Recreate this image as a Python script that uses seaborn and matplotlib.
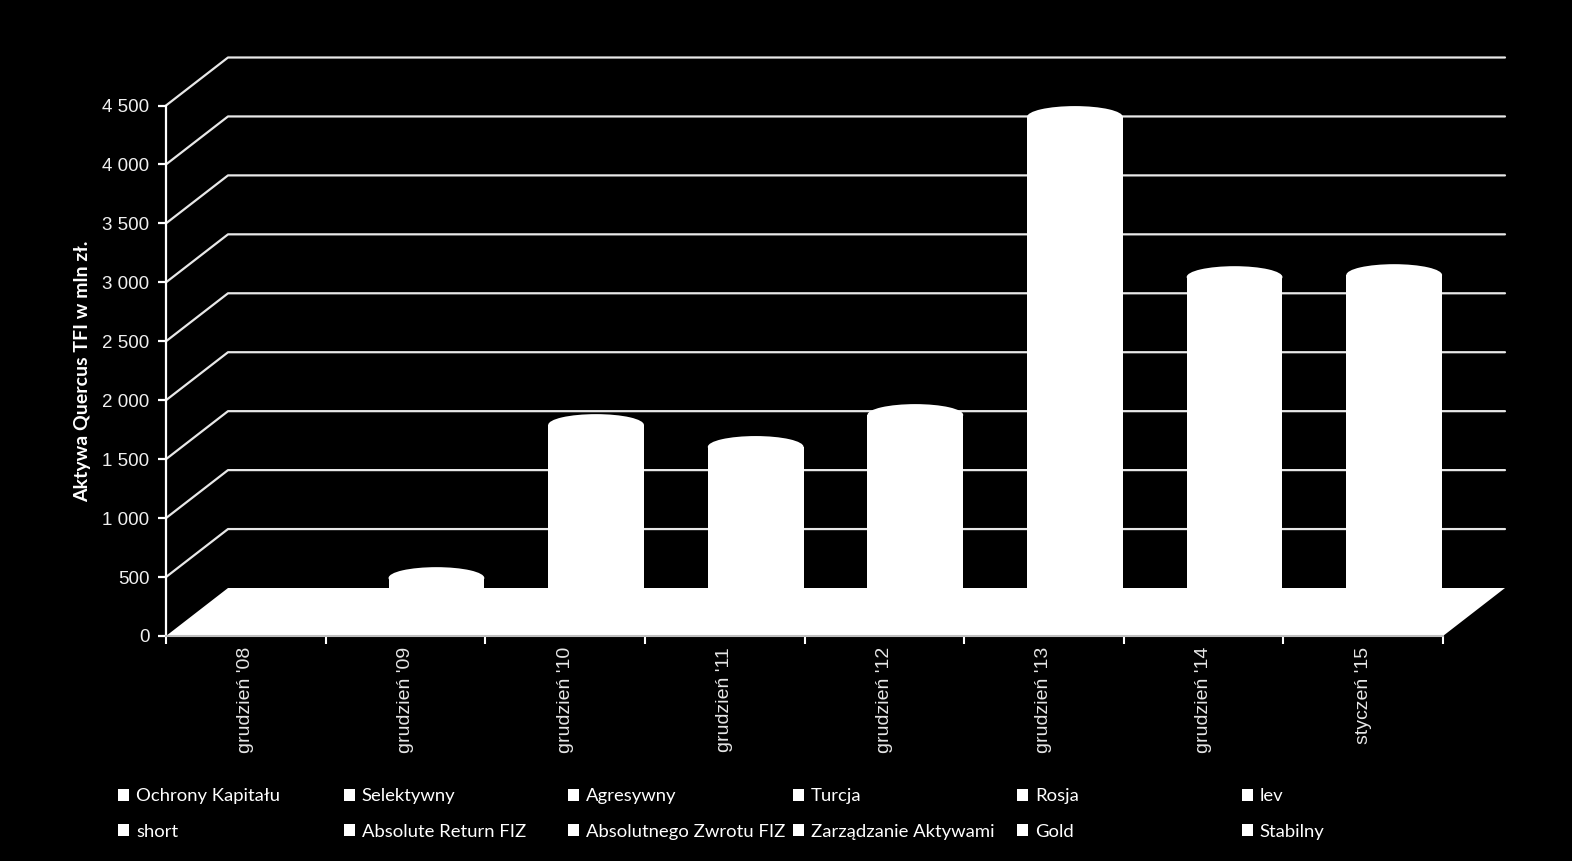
import numpy as np
import pandas as pd
import matplotlib
matplotlib.use('Agg')
import matplotlib.pyplot as plt
import seaborn as sns
from matplotlib.patches import Ellipse, Patch, Polygon
from matplotlib.lines import Line2D
from matplotlib.transforms import ScaledTranslation

# Dane (mln zł)
months = ["grudzień '08", "grudzień '09", "grudzień '10", "grudzień '11",
          "grudzień '12", "grudzień '13", "grudzień '14", "styczeń '15"]
assets = [0, 288, 1586, 1400, 1671, 4199, 2841, 2858]
funds = ["Ochrony Kapitału", "Selektywny", "Agresywny", "Turcja", "Rosja", "lev",
         "short", "Absolute Return FIZ", "Absolutnego Zwrotu FIZ",
         "Zarządzanie Aktywami", "Gold", "Stabilny"]
y_ticks = list(range(0, 5000, 500))
y_label = "Aktywa Quercus TFI w mln zł."

sns.set_theme(style='dark', rc={'figure.facecolor': 'black', 'axes.facecolor': 'black',
                                'savefig.facecolor': 'black'})
plt.rcParams['font.family'] = ['Liberation Sans', 'DejaVu Sans']

W, H = 1572, 861
fig = plt.figure(figsize=(W / 100, H / 100), dpi=100)
ax = fig.add_axes([166 / W, (H - 636) / H, (1443 - 166) / W, (636 - 105.5) / H])

df = pd.DataFrame({'okres': months, 'aktywa': assets})
sns.barplot(data=df, x='okres', y='aktywa', color='white', saturation=1, width=0.6,
            linewidth=0, ax=ax, zorder=3)
ax.set_xlim(-0.5, len(months) - 0.5)
ax.set_ylim(0, 4500)
ax.grid(False)

# pseudo-3D: przesunięcie głębokości (tylna ściana i środek podłogi)
depth = (0.62, 0.48)
mid = ScaledTranslation(depth[0] / 2, depth[1] / 2, fig.dpi_scale_trans)
off_px = np.array(depth) * fig.dpi
to_fig = fig.transFigure.inverted()

for p in list(ax.patches):
    p.set_transform(ax.transData + mid)
    p.set_clip_on(False)
    if p.get_height() > 0:
        top = Ellipse((p.get_x() + p.get_width() / 2, p.get_height()), p.get_width(), 185,
                      transform=ax.transData + mid, facecolor='white', edgecolor='none',
                      zorder=3, clip_on=False)
        ax.add_patch(top)

x0, x1 = ax.get_xlim()
# linie siatki na ścianie bocznej i tylnej
for v in y_ticks[1:]:
    fl = ax.transData.transform((x0, v))
    fr = ax.transData.transform((x1, v))
    pts = to_fig.transform([fl, fl + off_px, fr + off_px])
    ax.add_line(Line2D(pts[:, 0], pts[:, 1], transform=fig.transFigure, color='#e8e8e8',
                       lw=1.6, zorder=1, clip_on=False))

# podłoga
fl = ax.transData.transform((x0, 0))
fr = ax.transData.transform((x1, 0))
floor = to_fig.transform([fl, fr, fr + off_px, fl + off_px])
ax.add_patch(Polygon(floor, closed=True, transform=fig.transFigure, facecolor='white',
                     edgecolor='none', zorder=2, clip_on=False))

# osie
for s in ['top', 'right']:
    ax.spines[s].set_visible(False)
ax.spines['left'].set_color('white')
ax.spines['left'].set_linewidth(1.6)
ax.spines['bottom'].set_color('#bfbfbf')
ax.spines['bottom'].set_linewidth(1.5)
ax.spines['bottom'].set_zorder(4)

ax.set_yticks(y_ticks)
ax.set_yticklabels([f"{v:,}".replace(',', ' ') for v in y_ticks])
ax.tick_params(axis='y', colors='white', labelcolor='#f0f0f0', length=6, width=1.6,
               direction='out', labelsize=13.5, pad=6, left=True)
ax.set_xticks(np.arange(x0, x1 + 0.01, 1), minor=True)
ax.tick_params(axis='x', which='major', length=0, labelsize=14, labelcolor='#e6e6e6',
               rotation=90, pad=8)
ax.tick_params(axis='x', which='minor', length=6, width=1.5, color='white', bottom=True,
               direction='out')
ax.set_xlabel('')
ax.set_ylabel(y_label, color='white', fontsize=14, fontweight='bold', labelpad=8,
              family=['Lato', 'DejaVu Sans'])

# legenda: 6 kolumn, 2 wiersze
handle = Patch(facecolor='white', edgecolor='none')
col_x = [118, 344, 568, 793, 1017, 1242]
for j, x in enumerate(col_x):
    fig.legend([handle, handle], [funds[j], funds[j + 6]], loc='center left',
               bbox_to_anchor=(x / W, (H - 814) / H), frameon=False, borderpad=0,
               borderaxespad=0, handlelength=0.62, handleheight=0.62, handletextpad=0.35,
               labelspacing=1.08, labelcolor='white',
               prop={'family': ['Lato', 'DejaVu Sans'], 'size': 13.3})

fig.savefig('out.png', dpi=100)
